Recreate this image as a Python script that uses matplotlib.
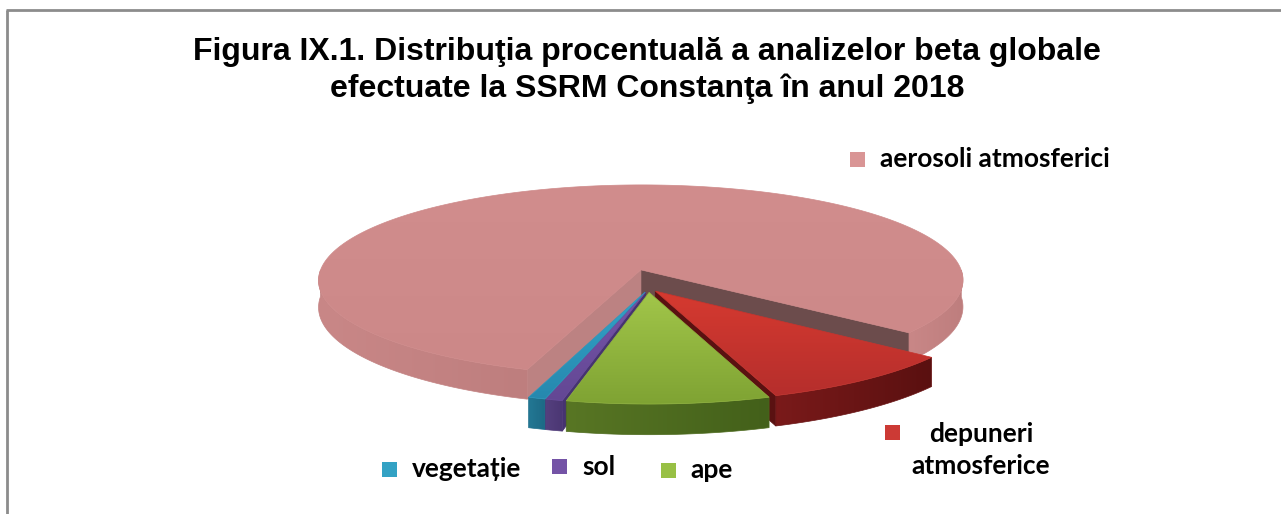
import numpy as np
import matplotlib
matplotlib.use("Agg")
import matplotlib.pyplot as plt
from matplotlib.patches import Polygon, Rectangle
from matplotlib.colors import to_rgb

# ---------------- data ----------------
categories = ["aerosoli atmosferici", "depuneri\natmosferice", "ape", "sol", "vegetație"]
values = [80.6, 9.0, 8.9, 0.75, 0.75]
title_lines = ["Figura IX.1. Distribuţia procentuală a analizelor beta globale",
               "efectuate la SSRM Constanţa în anul 2018"]

# (start colour, end colour) for gradients; horizontal for rims, vertical for tops
top_colors = [("#D18D8D", "#CC8888"), ("#D63A30", "#B52E2C"), ("#A2C64A", "#7FA333"),
              ("#7755A8", "#634794"), ("#33A4C8", "#2688AE")]
rim_colors = [("#C98787", "#BE7E7E"), ("#7A1A1A", "#5A1010"), ("#587624", "#43601A"),
              ("#55407F", "#4A3672"), ("#237894", "#1C6884")]
cut_lo_colors = ["#6C4C4C", "#5A1111", "#45601C", "#463370", "#1B6280"]
cut_hi_colors = ["#BC8282", "#5A1111", "#45601C", "#463370", "#1B6280"]
legend_colors = ["#D99595", "#CC3A35", "#98C045", "#7453A6", "#33A2C4"]
explode = [0.14, 0.06, 0.06, 0.06, 0.06]
explode_aniso = (0.6, 1.2)   # horizontal / depth scaling of the explosion

# ---------------- geometry ----------------
W, H = 1281, 514
fig = plt.figure(figsize=(W / 100, H / 100), dpi=100)
ax = fig.add_axes([0, 0, 1, 1])
ax.set_xlim(0, W)
ax.set_ylim(H, 0)
ax.axis("off")

cx, cy = 648.5, 285.3
rx, ry = 326, 97.6
k = 0.111
depth = 27
start = 251.6


def proj(u, v, z):
    u = np.asarray(u, float)
    v = np.asarray(v, float)
    p = 1.0 / (1.0 + k * v)
    X = cx + rx * u * p
    Y = cy + p * (-ry * v + z)
    return np.column_stack([X, Y])


def grad_poly(pts, cols, horizontal=True, zorder=1):
    c0, c1 = np.array(to_rgb(cols[0])), np.array(to_rgb(cols[1]))
    poly = Polygon(pts, closed=True, facecolor="none", edgecolor="none")
    ax.add_patch(poly)
    x0, y0 = pts.min(axis=0)
    x1, y1 = pts.max(axis=0)
    f = np.linspace(0, 1, 64)
    ramp = c0[None, :] * (1 - f)[:, None] + c1[None, :] * f[:, None]
    img = ramp[None, :, :] if horizontal else ramp[:, None, :]
    im = ax.imshow(img, extent=(x0 - 1, x1 + 1, y1 + 1, y0 - 1), origin="upper",
                   interpolation="bilinear", aspect="auto", zorder=zorder)
    im.set_clip_path(poly)
    mid = tuple((c0 + c1) / 2)
    ax.add_patch(Polygon(pts, closed=True, facecolor="none", edgecolor=mid, lw=0.5, zorder=zorder))


total = float(sum(values))
cum = np.concatenate([[0], np.cumsum(values)]) / total
wedges = []
for i in range(len(values)):
    a_hi = start - 360 * cum[i]
    a_lo = start - 360 * cum[i + 1]
    mid = np.deg2rad((a_hi + a_lo) / 2)
    ou = explode[i] * np.cos(mid) * explode_aniso[0]
    ov = explode[i] * np.sin(mid) * explode_aniso[1]
    wedges.append((np.deg2rad(a_lo), np.deg2rad(a_hi), ou, ov))

cuts, rims, tops = [], [], []
for i, (a1, a2, ou, ov) in enumerate(wedges):
    n = max(4, int(abs(a2 - a1) / (2 * np.pi) * 500))
    t = np.linspace(a1, a2, n)
    u = np.concatenate([[ou], ou + np.cos(t)])
    v = np.concatenate([[ov], ov + np.sin(t)])
    tops.append((proj(u, v, np.zeros_like(u)), top_colors[i]))
    for ang, vis, col in ((a1, np.cos(a1) > 0, cut_lo_colors[i]),
                          (a2, np.cos(a2) < 0, cut_hi_colors[i])):
        if vis:
            uu = np.array([ou, ou + np.cos(ang), ou + np.cos(ang), ou])
            vv = np.array([ov, ov + np.sin(ang), ov + np.sin(ang), ov])
            zz = np.array([0, 0, depth, depth])
            cuts.append((np.mean(vv), proj(uu, vv, zz), col))
    front = np.sin(t) < 0
    if front.any():
        idx = np.where(front)[0]
        groups = np.split(idx, np.where(np.diff(idx) != 1)[0] + 1)
        for g in groups:
            if len(g) < 2:
                continue
            tt = t[g]
            ut = ou + np.cos(tt)
            vt = ov + np.sin(tt)
            top_pts = proj(ut, vt, np.zeros_like(ut))
            bot_pts = proj(ut[::-1], vt[::-1], np.full_like(ut, depth))
            rims.append((np.mean(vt), np.vstack([top_pts, bot_pts]), rim_colors[i]))

z = 1
for _, pts, c in sorted(cuts, key=lambda r: -r[0]):
    ax.add_patch(Polygon(pts, closed=True, facecolor=c, edgecolor=c, lw=0.6, zorder=z))
    z += 1
for _, pts, c in sorted(rims, key=lambda r: -r[0]):
    grad_poly(pts, c, horizontal=True, zorder=z)
    z += 1
for pts, c in tops:
    grad_poly(pts, c, horizontal=False, zorder=z)
    z += 1

# ---------------- frame ----------------
ax.plot([7, 7], [10, H + 5], color="#8C8C8C", lw=2, solid_capstyle="butt", zorder=z)
ax.plot([6, W + 5], [10, 10], color="#8C8C8C", lw=2, solid_capstyle="butt", zorder=z)

# ---------------- title ----------------
for line, yb in zip(title_lines, [60, 97]):
    ax.text(647, yb, line, ha="center", va="baseline", fontsize=23,
            fontweight="bold", family="Liberation Sans", zorder=z)

# ---------------- legend ----------------
leg_font = dict(fontsize=19, fontweight="bold", family=["Lato", "DejaVu Sans"], color="black")
sq = 15
legend_pos = [
    (850, 152, 880, 167, "left"),
    (885, 425, 981, 442, "center"),
    (661, 463, 690, 478, "left"),
    (552, 459, 582, 475, "left"),
    (382, 462, 412, 477, "left"),
]
for i, (mx, my, tx, ty, ha) in enumerate(legend_pos):
    ax.add_patch(Rectangle((mx, my), sq, sq, facecolor=legend_colors[i], edgecolor="none", zorder=z))
    for j, part in enumerate(categories[i].split("\n")):
        ax.text(tx, ty + 32 * j, part, ha=ha, va="baseline", zorder=z, **leg_font)

ax.set_xlim(0, W)
ax.set_ylim(H, 0)
fig.savefig("out.png", dpi=100)
